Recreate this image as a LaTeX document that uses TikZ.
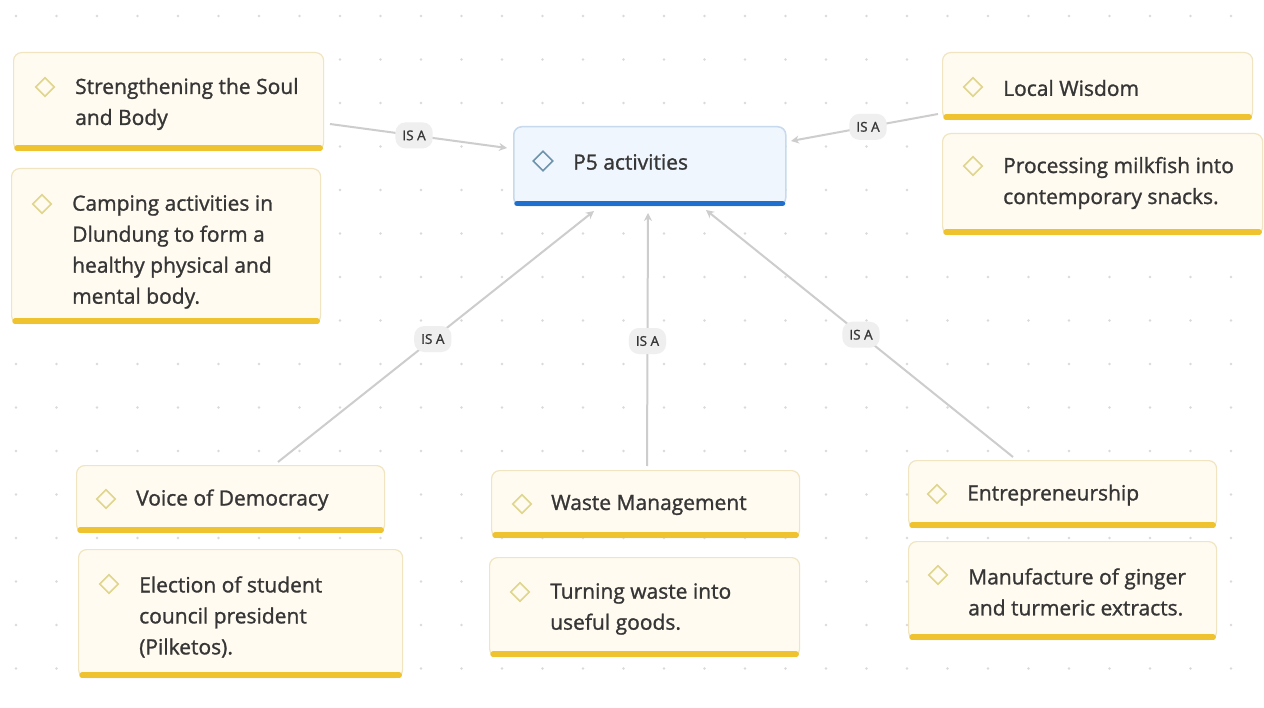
\documentclass[tikz,border=0pt]{standalone}
\usepackage{fontspec}
\setmainfont{Open Sans}
\newfontfamily\semib{Open Sans}[FakeBold=1.2]
\usetikzlibrary{shapes.geometric,arrows.meta}
\definecolor{boxfill}{HTML}{FFFBF0}
\definecolor{boxline}{HTML}{F0E5C0}
\definecolor{ybar}{HTML}{EFC22F}
\definecolor{diay}{HTML}{E0D58C}
\definecolor{cfill}{HTML}{F0F6FD}
\definecolor{cline}{HTML}{C7D9EC}
\definecolor{cbar}{HTML}{1F6FCF}
\definecolor{cdia}{HTML}{6E93AC}
\definecolor{txtc}{HTML}{363636}
\definecolor{conn}{HTML}{CDCDCD}
\definecolor{lblfill}{HTML}{EFEFEF}
\definecolor{dotc}{HTML}{DADADA}
\tikzset{
  ybox/.style={draw=boxline, fill=boxfill, line width=1.2pt, rounded corners=8pt, inner sep=0pt, anchor=north west},
  cbox/.style={draw=cline, fill=cfill, line width=1.5pt, rounded corners=8pt, inner sep=0pt, anchor=north west},
  ybarline/.style={draw=ybar, line width=5.5pt, line cap=round},
  cbarline/.style={draw=cbar, line width=5.5pt, line cap=round},
  dia/.style={diamond, draw=diay, line width=1.6pt, minimum width=19pt, minimum height=19pt, inner sep=0pt},
  cdiam/.style={diamond, draw=cdia, line width=1.6pt, minimum width=20pt, minimum height=20pt, inner sep=0pt},
  txt/.style={font=\semib\fontsize{21}{31}\selectfont, text=txtc, align=left, inner sep=0pt, anchor=west},
  conline/.style={draw=conn, line width=2pt, -{Stealth[length=8pt,width=8pt]}},
  lbl/.style={fill=lblfill, rounded corners=10pt, text=txtc, font=\semib\fontsize{13.5}{15}\selectfont, inner xsep=7pt, inner ysep=5pt, minimum height=26pt},
}
\newcommand\mkbox[6]{%
  \node[#6, minimum width={#4-#2}, minimum height={#5-#3}] (#1) at (#2,#3) {};
}
\begin{document}
\begin{tikzpicture}[x=1pt,y=-1pt]
\useasboundingbox (0,0) rectangle (1264,708);
\fill[white] (0,0) rectangle (1264,708);
% dot grid
\foreach \i in {0,...,30} {
  \foreach \j in {0,...,15} {
    \fill[dotc] ({16+40.5*\i},{16+43.5*\j}) circle (1.3pt);
  }
}
% boxes
\mkbox{b1}{13}{52}{323}{150}{ybox}
\mkbox{b2}{11}{168}{320}{323}{ybox}
\mkbox{b3}{942}{52}{1252}{119}{ybox}
\mkbox{b4}{942}{133}{1262}{234}{ybox}
\mkbox{b5}{76}{465}{384}{532}{ybox}
\mkbox{b6}{78}{549}{402}{677}{ybox}
\mkbox{b7}{491}{470}{799}{537}{ybox}
\mkbox{b8}{489}{557}{799}{656}{ybox}
\mkbox{b9}{908}{460}{1216}{527}{ybox}
\mkbox{b10}{908}{541}{1216}{639}{ybox}
\mkbox{c}{513}{126}{785}{205}{cbox}
% bottom bars
\foreach \n in {b1,b2,b3,b4,b5,b6,b7,b8,b9,b10} {
  \draw[ybarline] ([xshift=4pt,yshift=3pt]\n.south west) -- ([xshift=-4pt,yshift=3pt]\n.south east);
}
\draw[cbarline] ([xshift=4pt,yshift=3pt]c.south west) -- ([xshift=-4pt,yshift=3pt]c.south east);
% diamonds
\node[dia] (d1) at (45,87) {};
\node[dia] (d2) at (42,204) {};
\node[dia] (d3) at (973,87) {};
\node[dia] (d4) at (973,166) {};
\node[dia] (d5) at (106,499) {};
\node[dia] (d6) at (109,584) {};
\node[dia] (d7) at (522,504) {};
\node[dia] (d8) at (520,592) {};
\node[dia] (d9) at (937,494) {};
\node[dia] (d10) at (938,575) {};
\node[cdiam] (dc) at (543,161) {};
% texts
\node[txt] (t1) at (75,104) {Strengthening the Soul\\and Body};
\node[txt] (t2) at (72,252) {Camping activities in\\Dlundung to form a\\healthy physical and\\mental body.};
\node[txt] (t3) at (1003,88) {Local Wisdom};
\node[txt] (t4) at (1003,183) {Processing milkfish into\\contemporary snacks.};
\node[txt] (t5) at (136,500) {Voice of Democracy};
\node[txt] (t6) at (139,617) {Election of student\\council president\\(Pilketos).};
\node[txt] (t7) at (551,505) {Waste Management};
\node[txt] (t8) at (550,609) {Turning waste into\\useful goods.};
\node[txt] (t9) at (967,495) {Entrepreneurship};
\node[txt] (t10) at (968,592) {Manufacture of ginger\\and turmeric extracts.};
\node[txt] (tc) at (573,162) {P5 activities};
% connector end points
\coordinate (s1) at (330,124);
\coordinate (e1) at (507,148);
\coordinate (s2) at (938,114);
\coordinate (e2) at (791,141);
\coordinate (s3) at (278,462);
\coordinate (e3) at (594,211);
\coordinate (s4) at (647,466);
\coordinate (e4) at (648,213);
\coordinate (s5) at (1013,457);
\coordinate (e5) at (706,210);
\draw[conline] (s1) -- node[lbl,pos=0.475] (l1) {IS A} (e1);
\draw[conline] (s2) -- node[lbl,pos=0.476] (l2) {IS A} (e2);
\draw[conline] (s3) -- node[lbl,pos=0.49] (l3) {IS A} (e3);
\draw[conline] (s4) -- node[lbl,pos=0.494] (l4) {IS A} (e4);
\draw[conline] (s5) -- node[lbl,pos=0.495] (l5) {IS A} (e5);
\end{tikzpicture}
\end{document}
